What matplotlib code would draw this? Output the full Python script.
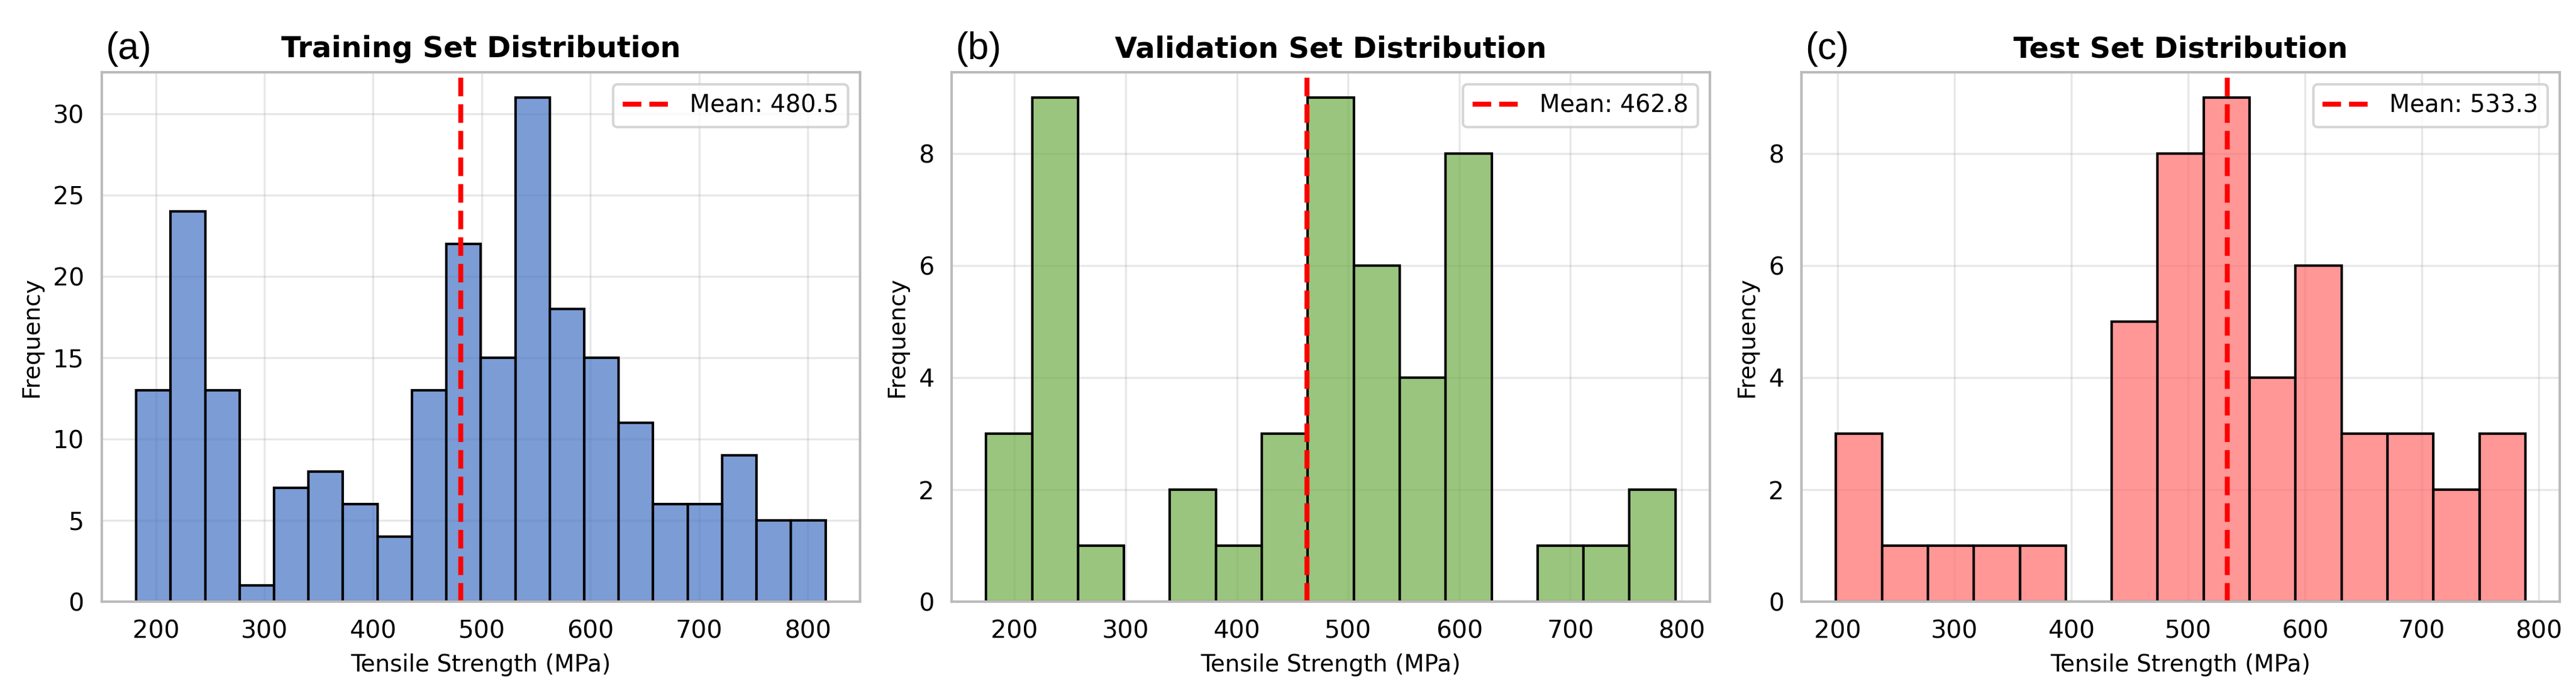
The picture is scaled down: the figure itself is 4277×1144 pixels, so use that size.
import numpy as np
import matplotlib.pyplot as plt
from matplotlib.colors import to_rgba

# histogram counts
train_counts = [13, 24, 13, 1, 7, 8, 6, 4, 13, 22, 15, 31, 18, 15, 11, 6, 6, 9, 5, 5]
train_range = (182.0, 816.4)
train_mean = 480.5

val_counts = [3, 9, 1, 0, 2, 1, 3, 9, 6, 4, 8, 0, 1, 1, 2]
val_range = (174.5, 794.4)
val_mean = 462.8

test_counts = [3, 1, 1, 1, 1, 0, 5, 8, 9, 4, 6, 3, 3, 2, 3]
test_range = (198.5, 788.5)
test_mean = 533.3

titles = ["Training Set Distribution", "Validation Set Distribution", "Test Set Distribution"]
panel_tags = ["(a)", "(b)", "(c)"]
colors = ["#4472C4", "#70AD47", "#FF6B6B"]
x_ticks = [200, 300, 400, 500, 600, 700, 800]
y_ticks = [[0, 5, 10, 15, 20, 25, 30], [0, 2, 4, 6, 8], [0, 2, 4, 6, 8]]

fig, axes = plt.subplots(1, 3, figsize=(4277 / 300, 1144 / 300), dpi=300)
fig.subplots_adjust(left=0.0395, right=0.9937, bottom=0.1267, top=0.8951, wspace=0.121)

datasets = [
    (train_counts, train_range, train_mean),
    (val_counts, val_range, val_mean),
    (test_counts, test_range, test_mean),
]

for i, ax in enumerate(axes):
    counts, (lo, hi), mean = datasets[i]
    edges = np.linspace(lo, hi, len(counts) + 1)
    centers = (edges[:-1] + edges[1:]) / 2

    ax.set_axisbelow(True)
    ax.grid(True, color="#b0b0b0", alpha=0.3, linewidth=0.8)

    ax.hist(
        centers,
        bins=edges,
        weights=counts,
        facecolor=to_rgba(colors[i], 0.7),
        edgecolor="black",
        linewidth=1.0,
    )
    ax.axvline(mean, color="red", linestyle="--", linewidth=2, label=f"Mean: {mean:.1f}")

    ax.set_title(titles[i], fontsize=11.5, fontweight="bold")
    ax.set_xlabel("Tensile Strength (MPa)", fontsize=9.3)
    ax.set_ylabel("Frequency", fontsize=9.3)
    ax.set_xticks(x_ticks)
    ax.set_yticks(y_ticks[i])
    ax.tick_params(axis="both", length=0, pad=7, labelsize=9.8)

    for sp in ax.spines.values():
        sp.set_color("#bbbbbb")
        sp.set_linewidth(1.0)

    ax.legend(loc="upper right", fontsize=9.5, fancybox=True, framealpha=0.8)

    ax.text(
        0.005, 1.025, panel_tags[i],
        transform=ax.transAxes,
        fontsize=15,
        family="Liberation Sans",
        ha="left",
        va="baseline",
    )

fig.savefig("out.png", dpi=300)
